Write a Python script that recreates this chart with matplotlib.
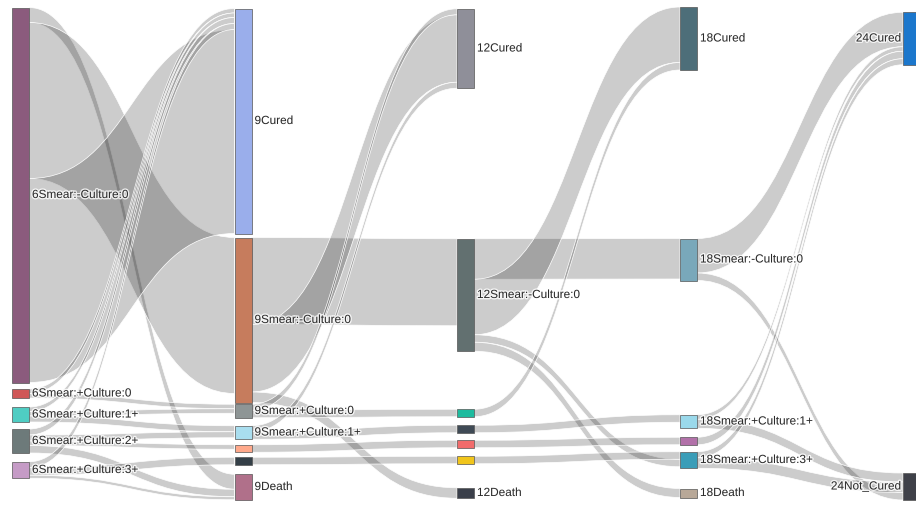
import matplotlib
matplotlib.use('Agg')
import matplotlib.pyplot as plt
from matplotlib.path import Path
from matplotlib.patches import PathPatch, Rectangle
import matplotlib.patheffects as pe

plt.rcParams.update({'font.family': ['Liberation Sans', 'DejaVu Sans'], 'font.size': 8.5})

# ---- data ----
node_names = ['6Smear:-Culture:0', '6Smear:+Culture:0', '6Smear:+Culture:1+', '6Smear:+Culture:2+',
              '6Smear:+Culture:3+',
              '9Cured', '9Smear:-Culture:0', '9Smear:+Culture:0', '9Smear:+Culture:1+',
              '9Smear:+Culture:2+', '9Smear:+Culture:3+', '9Death',
              '12Cured', '12Smear:-Culture:0', '12Smear:+Culture:0', '12Smear:+Culture:1+',
              '12Smear:+Culture:2+', '12Smear:+Culture:3+', '12Death',
              '18Cured', '18Smear:-Culture:0', '18Smear:+Culture:1+', '18Smear:+Culture:2+',
              '18Smear:+Culture:3+', '18Death',
              '24Cured', '24Not_Cured']
node_column = [0, 0, 0, 0, 0,
               1, 1, 1, 1, 1, 1, 1,
               2, 2, 2, 2, 2, 2, 2,
               3, 3, 3, 3, 3, 3,
               4, 4]
# labels that are not shown in the chart
hidden_labels = ['9Smear:+Culture:2+', '9Smear:+Culture:3+', '12Smear:+Culture:0', '12Smear:+Culture:1+',
                 '12Smear:+Culture:2+', '12Smear:+Culture:3+', '18Smear:+Culture:2+']

link_source = [0, 0, 0, 1, 1, 2, 2, 2, 3, 3, 3, 3, 4, 4, 4,
               6, 6, 6, 7, 7, 8, 8, 9, 10,
               13, 13, 13, 13, 14, 15, 16, 17,
               20, 20, 21, 21, 22, 23, 23]
link_target = [11, 6, 5, 5, 7, 5, 7, 8, 5, 8, 9, 11, 5, 10, 11,
               13, 12, 18, 12, 14, 12, 15, 16, 17,
               20, 19, 23, 24, 19, 21, 22, 23,
               25, 26, 25, 26, 25, 25, 26]
link_value = [10, 104, 136, 3, 3, 3, 3, 4, 4, 4, 3, 5, 4, 5, 2,
              58, 45, 7, 4, 5, 4, 5, 5, 5,
              27, 37, 5, 6, 5, 5, 5, 5,
              23, 5, 3, 6, 5, 4, 7]

# ---- layout / style ----
node_colors = ['#8B5B7D', '#CF5757', '#4FCDC3', '#6D7A7A', '#C59BC6',
               '#9AAEEB', '#C67C5D', '#8E9595', '#A9DEEF', '#FFA98B', '#343F47', '#B0708A',
               '#8F8F99', '#627070', '#1DBB9E', '#3F4A55', '#F26B6B', '#F1C51B', '#3A3F4A',
               '#4D6E79', '#79A8BA', '#9AD9EB', '#B271A9', '#3A9DB8', '#B8A898',
               '#1C77CC', '#3F4149']
node_cy = [195, 393.5, 414.5, 441, 470,
           121, 320, 411, 432.5, 448.5, 461, 487,
           48.5, 295, 413, 429, 444, 460, 493,
           38.5, 259.5, 421.5, 441, 460, 493,
           38.5, 486.5]
# position of each link inside its target node (0 = top)
link_tgt_rank = [0, 0, 4, 0, 0, 1, 1, 0, 2, 1, 0, 1, 3, 0, 2,
                 0, 1, 0, 0, 0, 2, 0, 0, 0,
                 0, 0, 1, 0, 1, 0, 0, 0,
                 0, 2, 1, 0, 2, 3, 1]
col_x = [12, 234.5, 457, 680, 903]
NODE_W = 17
SCALE = 1.5   # pixels per patient
W, H = 916, 508

n = len(node_names)
inflow = [0] * n
outflow = [0] * n
for s, t, v in zip(link_source, link_target, link_value):
    outflow[s] += v
    inflow[t] += v
node_h = [max(a, b) * SCALE for a, b in zip(inflow, outflow)]
node_top = [c - h / 2 for c, h in zip(node_cy, node_h)]

fig = plt.figure(figsize=(W / 100, H / 100), dpi=100, facecolor='white')
ax = fig.add_axes([0, 0, 1, 1])
ax.set_xlim(0, W)
ax.set_ylim(H, 0)
ax.axis('off')

# stack link ends inside nodes
src_off = [0.0] * n
link_y0 = []
for s, v in zip(link_source, link_value):
    link_y0.append(node_top[s] + src_off[s])
    src_off[s] += v * SCALE
link_y1 = [0.0] * len(link_value)
for t_node in range(n):
    idx = sorted([i for i, t in enumerate(link_target) if t == t_node], key=lambda i: link_tgt_rank[i])
    off = node_top[t_node]
    for i in idx:
        link_y1[i] = off
        off += link_value[i] * SCALE

for i, (s, t, v) in enumerate(zip(link_source, link_target, link_value)):
    x0 = col_x[node_column[s]] + NODE_W
    x1 = col_x[node_column[t]]
    xm = (x0 + x1) / 2
    w = v * SCALE
    a0, a1 = link_y0[i], link_y1[i]
    verts = [(x0, a0), (xm, a0), (xm, a1), (x1, a1),
             (x1, a1 + w),
             (xm, a1 + w), (xm, a0 + w), (x0, a0 + w),
             (x0, a0)]
    codes = [Path.MOVETO, Path.CURVE4, Path.CURVE4, Path.CURVE4,
             Path.LINETO,
             Path.CURVE4, Path.CURVE4, Path.CURVE4,
             Path.CLOSEPOLY]
    ax.add_patch(PathPatch(Path(verts, codes), facecolor=(0, 0, 0, 0.2),
                           edgecolor='white', lw=0.5, zorder=1))

halo = [pe.withStroke(linewidth=2, foreground='white', alpha=0.8)]
for k in range(n):
    x = col_x[node_column[k]]
    ax.add_patch(Rectangle((x, node_top[k]), NODE_W, node_h[k], facecolor=node_colors[k],
                           edgecolor='#555555', lw=0.5, zorder=3))
    if node_names[k] in hidden_labels:
        continue
    yc = node_top[k] + node_h[k] / 2
    if node_column[k] == 4:
        ax.text(x - 2, yc, node_names[k], ha='right', va='center', color='#2b2b2b',
                path_effects=halo, zorder=4)
    else:
        ax.text(x + NODE_W + 3, yc, node_names[k], ha='left', va='center', color='#2b2b2b',
                path_effects=halo, zorder=4)

fig.savefig('out.png', dpi=100, facecolor='white')
